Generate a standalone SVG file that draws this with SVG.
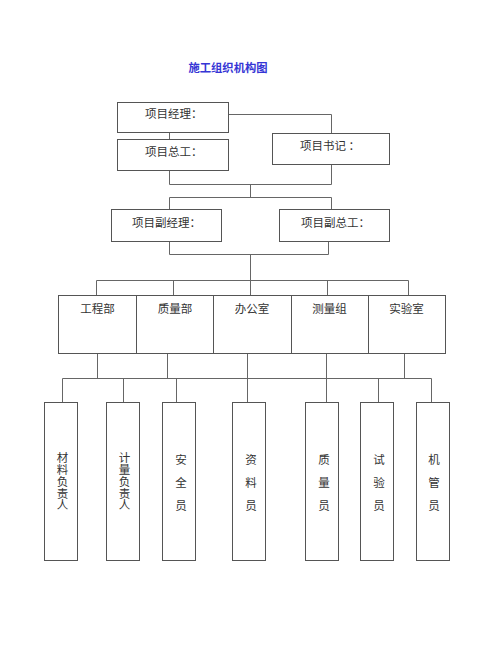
<svg xmlns="http://www.w3.org/2000/svg" width="500" height="647" viewBox="0 0 500 647">
<style>
.bx{fill:#fff;stroke:#555;stroke-width:1}
.ln{fill:none;stroke:#666;stroke-width:1}
.t{font-family:"Noto Sans CJK SC","Noto Sans",sans-serif;font-size:11.5px;fill:#333;dominant-baseline:central}
.c{text-anchor:middle}
.v{font-family:"Noto Sans CJK SC","Noto Sans",sans-serif;font-size:11.5px;fill:#333;writing-mode:vertical-rl;letter-spacing:0.3px}
.title{font-family:"Noto Sans CJK SC","Noto Sans",sans-serif;font-size:11.3px;font-weight:bold;fill:#3535d5;text-anchor:middle;dominant-baseline:central}
</style>
<rect width="500" height="647" fill="#fff"/>
<text class="title" x="228" y="67">施工组织机构图</text>
<g id="connectors" class="ln">
<path d="M169.5,132V139"/>
<path d="M228,114.5H331.5V133"/>
<path d="M169.5,171V184.5H331.5V164"/>
<path d="M250.5,184.5V197.5"/>
<path d="M169.5,209V197.5H331.5V209"/>
<path d="M169.5,241V254.5H328.5V241"/>
<path d="M250.5,254.5V280.5"/>
<path d="M96.5,295V280.5H408.5V295"/>
<path d="M173.5,280.5V295M250.5,280.5V295M327.5,280.5V295"/>
<path d="M97.5,353V378.5M167.5,353V378.5M247.5,353V378.5M326.5,353V378.5M404.5,353V378.5"/>
<path d="M62.5,402V378.5H431.5V402"/>
<path d="M123.5,378.5V402M176.5,378.5V402M247.5,378.5V402M326.5,378.5V402M378.5,378.5V402"/>
</g>
<g id="n-pm"><rect class="bx" x="117.5" y="102.5" width="111" height="30"/><text class="t" x="145" y="113">项目经理：</text></g>
<g id="n-chief"><rect class="bx" x="117.5" y="139.5" width="111" height="31"/><text class="t" x="145" y="151">项目总工：</text></g>
<g id="n-sec"><rect class="bx" x="272.5" y="133.5" width="117" height="31"/><text class="t" x="300" y="145">项目书记 ：</text></g>
<g id="n-dpm"><rect class="bx" x="111.5" y="209.5" width="110" height="32"/><text class="t" x="132" y="222">项目副经理：</text></g>
<g id="n-dchief"><rect class="bx" x="279.5" y="209.5" width="110" height="32"/><text class="t" x="301" y="222">项目副总工：</text></g>
<g id="n-eng"><rect class="bx" x="58.5" y="295.5" width="78" height="58"/><text class="t c" x="97.5" y="308">工程部</text></g>
<g id="n-qual"><rect class="bx" x="136.5" y="295.5" width="77" height="58"/><text class="t c" x="175" y="308">质量部</text></g>
<g id="n-office"><rect class="bx" x="213.5" y="295.5" width="78" height="58"/><text class="t c" x="252" y="308">办公室</text></g>
<g id="n-survey"><rect class="bx" x="291.5" y="295.5" width="77" height="58"/><text class="t c" x="329.5" y="308">测量组</text></g>
<g id="n-lab"><rect class="bx" x="368.5" y="295.5" width="77" height="58"/><text class="t c" x="406.5" y="308">实验室</text></g>
<g id="n-mat"><rect class="bx" x="44.5" y="402.5" width="33" height="158"/><text class="v" x="62.5" y="452">材料负责人</text></g>
<g id="n-meas"><rect class="bx" x="106.5" y="402.5" width="33" height="158"/><text class="v" x="124.5" y="452">计量负责人</text></g>
<g id="n-safe"><rect class="bx" x="162.5" y="402.5" width="33" height="158"/><text class="t c" x="181"><tspan x="181" y="459">安</tspan><tspan x="181" y="482">全</tspan><tspan x="181" y="505">员</tspan></text></g>
<g id="n-doc"><rect class="bx" x="232.5" y="402.5" width="33" height="158"/><text class="t c" x="251"><tspan x="251" y="459">资</tspan><tspan x="251" y="482">料</tspan><tspan x="251" y="505">员</tspan></text></g>
<g id="n-qc"><rect class="bx" x="305.5" y="402.5" width="33" height="158"/><text class="t c" x="324"><tspan x="324" y="459">质</tspan><tspan x="324" y="482">量</tspan><tspan x="324" y="505">员</tspan></text></g>
<g id="n-test"><rect class="bx" x="360.5" y="402.5" width="33" height="158"/><text class="t c" x="379"><tspan x="379" y="459">试</tspan><tspan x="379" y="482">验</tspan><tspan x="379" y="505">员</tspan></text></g>
<g id="n-mach"><rect class="bx" x="416.5" y="402.5" width="33" height="158"/><text class="t c" x="434"><tspan x="434" y="459">机</tspan><tspan x="434" y="482">管</tspan><tspan x="434" y="505">员</tspan></text></g>
</svg>
